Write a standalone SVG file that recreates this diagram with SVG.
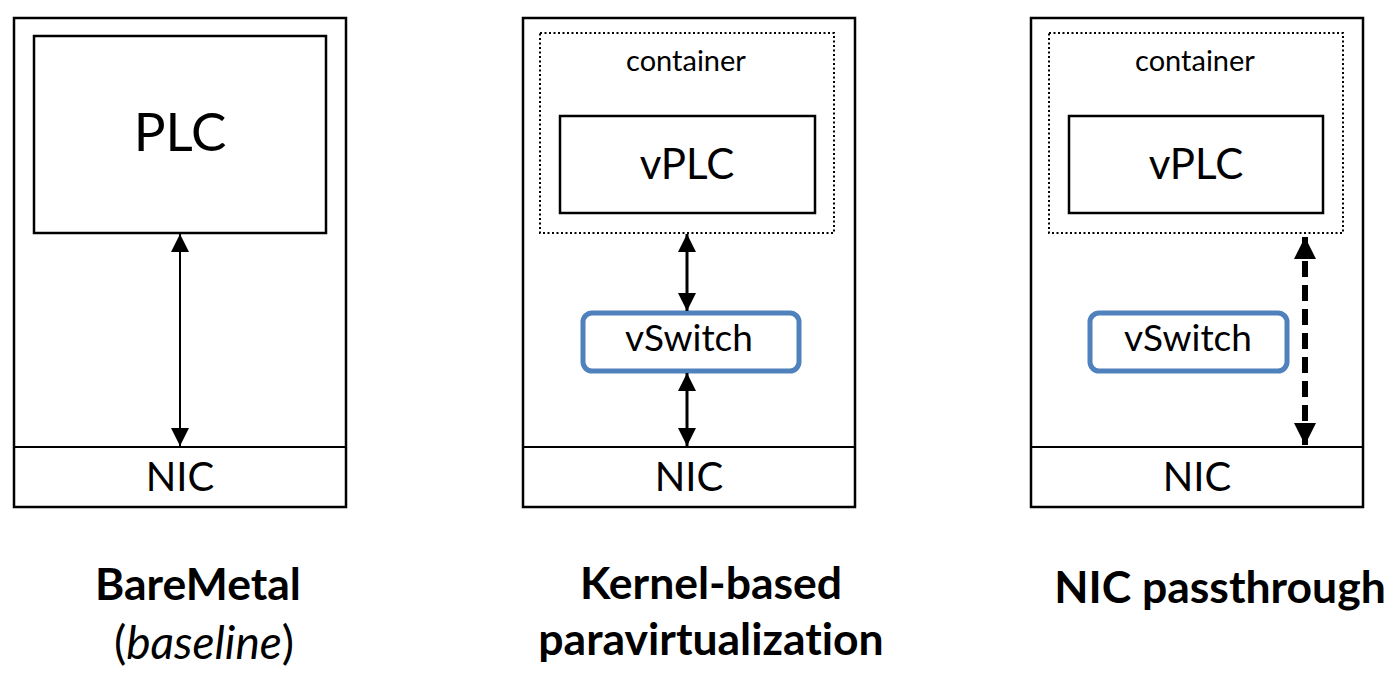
<svg xmlns="http://www.w3.org/2000/svg" width="1400" height="674" viewBox="0 0 1400 674">
<defs>
<style>
.box{fill:#fff;stroke:#000;stroke-width:2.5}
.dot{fill:none;stroke:#000;stroke-width:2;stroke-dasharray:2 2.5}
.sw{fill:#fff;stroke:#4f81bd;stroke-width:5}
.t{font-family:Lato,"Liberation Sans",sans-serif;fill:#000;text-anchor:middle;font-variant-ligatures:none}
.lbl{font-family:Lato,"Liberation Sans",sans-serif;fill:#000;text-anchor:middle;font-weight:bold;font-size:44.5px;font-variant-ligatures:none}
.ln{stroke:#000;stroke-width:2}
.thk{stroke:#000;stroke-width:3}
</style>
<marker id="ah2" viewBox="0 0 10 10" refX="10" refY="5" markerWidth="18" markerHeight="18" markerUnits="userSpaceOnUse" orient="auto-start-reverse"><path d="M0,0 L10,5 L0,10 z" fill="#000"/></marker>
<marker id="ah3" viewBox="0 0 10 10" refX="10" refY="5" markerWidth="22" markerHeight="22" markerUnits="userSpaceOnUse" orient="auto-start-reverse"><path d="M0,0 L10,5 L0,10 z" fill="#000"/></marker>
<filter id="blur" x="-2" y="-0.2" width="5" height="1.4"><feGaussianBlur stdDeviation="3"/></filter>
</defs>
<g id="baremetal">
<rect class="box" x="14" y="18" width="332" height="489"/>
<line class="ln" x1="14" y1="447" x2="346" y2="447" stroke-width="2.5"/>
<text class="t" x="180" y="491" font-size="40">NIC</text>
</g>
<g id="plc">
<rect class="box" x="34" y="36" width="292" height="197"/>
<text class="t" x="180" y="151" font-size="53">PLC</text>
</g>
<g id="kernel">
<rect class="box" x="523" y="18" width="332" height="489"/>
<line class="ln" x1="523" y1="447" x2="855" y2="447" stroke-width="2.5"/>
<text class="t" x="689" y="491" font-size="40">NIC</text>
</g>
<g id="container2">
<rect class="dot" x="540" y="33" width="294" height="200"/>
<text class="t" x="686" y="71" font-size="29">container</text>
</g>
<g id="vplc2">
<rect class="box" x="560" y="116" width="255" height="97"/>
<text class="t" x="687" y="179" font-size="42">vPLC</text>
</g>
<g id="vswitch2">
<rect class="sw" x="583" y="313" width="216" height="58" rx="9"/>
<text class="t" x="689" y="351" font-size="37">vSwitch</text>
</g>
<g id="passthrough">
<rect class="box" x="1031" y="18" width="332" height="489"/>
<line class="ln" x1="1031" y1="447" x2="1363" y2="447" stroke-width="2.5"/>
<text class="t" x="1197" y="491" font-size="40">NIC</text>
</g>
<g id="container3">
<rect class="dot" x="1049" y="33" width="294" height="200"/>
<text class="t" x="1195" y="71" font-size="29">container</text>
</g>
<g id="vplc3">
<rect class="box" x="1069" y="116" width="254" height="97"/>
<text class="t" x="1196" y="179" font-size="42">vPLC</text>
</g>
<g id="vswitch3">
<rect class="sw" x="1090" y="313" width="197" height="58" rx="9"/>
<text class="t" x="1188" y="351" font-size="37">vSwitch</text>
</g>
<g id="connectors">
<line class="ln" x1="180" y1="234" x2="180" y2="446" marker-start="url(#ah2)" marker-end="url(#ah2)"/>
<line class="thk" x1="687" y1="234" x2="687" y2="311" marker-start="url(#ah2)" marker-end="url(#ah2)"/>
<line class="thk" x1="687" y1="373" x2="687" y2="446" marker-start="url(#ah2)" marker-end="url(#ah2)"/>
<g filter="url(#blur)" opacity="0.6">
<line x1="1307" y1="240" x2="1307" y2="450" stroke="#000" stroke-width="7" stroke-dasharray="16 8"/>
</g>
<line x1="1305" y1="237" x2="1305" y2="445" stroke="#000" stroke-width="6" stroke-dasharray="16 8" marker-start="url(#ah3)" marker-end="url(#ah3)"/>
</g>
<g id="labels">
<text class="lbl" x="198" y="600">BareMetal</text>
<text class="t" x="204" y="659" font-size="46">(<tspan font-style="italic">baseline</tspan>)</text>
<text class="lbl" x="711" y="599">Kernel-based</text>
<text class="lbl" x="711" y="655">paravirtualization</text>
<text class="lbl" x="1220" y="603">NIC passthrough</text>
</g>
</svg>
